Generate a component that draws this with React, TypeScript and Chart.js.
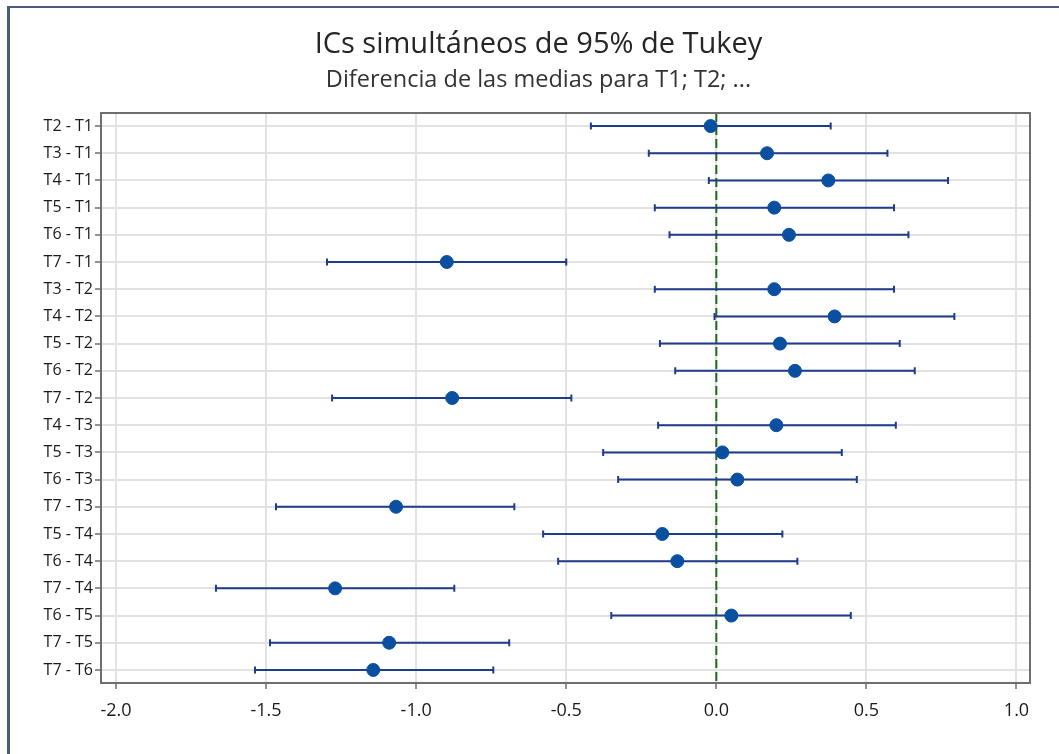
import React, { useEffect, useRef } from "react";
import { Chart, registerables } from "chart.js";

Chart.register(...registerables);

const comparisons = [
  "T2 - T1", "T3 - T1", "T4 - T1", "T5 - T1", "T6 - T1", "T7 - T1",
  "T3 - T2", "T4 - T2", "T5 - T2", "T6 - T2", "T7 - T2",
  "T4 - T3", "T5 - T3", "T6 - T3", "T7 - T3",
  "T5 - T4", "T6 - T4", "T7 - T4",
  "T6 - T5", "T7 - T5",
  "T7 - T6",
];
const centers = [
  -0.019, 0.169, 0.373, 0.193, 0.242, -0.898,
  0.193, 0.394, 0.212, 0.262, -0.88,
  0.2, 0.02, 0.07, -1.067,
  -0.18, -0.13, -1.27,
  0.05, -1.09,
  -1.143,
];
const lowers = [
  -0.418, -0.225, -0.025, -0.205, -0.156, -1.297,
  -0.205, -0.006, -0.188, -0.137, -1.28,
  -0.194, -0.377, -0.327, -1.467,
  -0.577, -0.527, -1.667,
  -0.35, -1.487,
  -1.537,
];
const uppers = [
  0.381, 0.57, 0.772, 0.592, 0.64, -0.5,
  0.592, 0.793, 0.611, 0.661, -0.483,
  0.598, 0.418, 0.468, -0.673,
  0.22, 0.27, -0.873,
  0.448, -0.69,
  -0.743,
];
const xTickValues = [-2.0, -1.5, -1.0, -0.5, 0.0, 0.5, 1.0];
const titleText = "ICs simultáneos de 95% de Tukey";
const subtitleText = "Diferencia de las medias para T1; T2; ...";

const FONT = "'Open Sans', 'Noto Sans', sans-serif";

export default function App() {
  const canvasRef = useRef<HTMLCanvasElement | null>(null);

  useEffect(() => {
    const canvas = canvasRef.current;
    if (!canvas) return;

    const whiskerPlugin = {
      id: "whiskers",
      beforeDatasetDraw(chart: any, args: any) {
        if (args.index !== 1) return;
        const ctx = chart.ctx;
        const xs = chart.scales.x;
        const ys = chart.scales.y;
        ctx.save();
        ctx.strokeStyle = "#1f3b8c";
        ctx.lineWidth = 2;
        for (let i = 0; i < comparisons.length; i++) {
          const y = ys.getPixelForValue(i + 1);
          const x1 = xs.getPixelForValue(lowers[i]);
          const x2 = xs.getPixelForValue(uppers[i]);
          ctx.beginPath();
          ctx.moveTo(x1, y);
          ctx.lineTo(x2, y);
          ctx.moveTo(x1, y - 3.5);
          ctx.lineTo(x1, y + 3.5);
          ctx.moveTo(x2, y - 3.5);
          ctx.lineTo(x2, y + 3.5);
          ctx.stroke();
        }
        ctx.restore();
      },
      afterDraw(chart: any) {
        const { ctx, chartArea } = chart;
        ctx.save();
        ctx.strokeStyle = "#6e6e6e";
        ctx.lineWidth = 2;
        ctx.strokeRect(
          chartArea.left,
          chartArea.top,
          chartArea.right - chartArea.left,
          chartArea.bottom - chartArea.top
        );
        ctx.restore();
      },
    };

    const chart = new Chart(canvas, {
      type: "scatter",
      data: {
        datasets: [
          {
            type: "line",
            data: [
              { x: 0, y: 0.52 },
              { x: 0, y: 21.48 },
            ],
            borderColor: "#1d6b1d",
            borderWidth: 2,
            borderDash: [9, 4],
            pointRadius: 0,
            showLine: true,
            order: 2,
          } as any,
          {
            data: centers.map((c, i) => ({ x: c, y: i + 1 })),
            backgroundColor: "#0b4fa0",
            borderColor: "#0b4fa0",
            borderWidth: 1,
            pointRadius: 6.5,
            pointStyle: "circle",
            order: 1,
          },
        ],
      },
      options: {
        responsive: false,
        animation: false,
        events: [],
        layout: { padding: { left: 18, right: 0, top: 0, bottom: 0 } },
        plugins: {
          legend: { display: false },
          tooltip: { enabled: false },
          title: {
            display: true,
            text: titleText,
            color: "#262626",
            font: { family: FONT, size: 29, weight: "normal" },
            padding: { top: 27.6, bottom: 0 },
          },
          subtitle: {
            display: true,
            text: subtitleText,
            color: "#333333",
            font: { family: FONT, size: 23.5, weight: "normal" },
            padding: { top: 3.5, bottom: 18.9 },
          },
        },
        scales: {
          x: {
            type: "linear",
            min: -2.05,
            max: 1.045,
            afterBuildTicks(scale: any) {
              scale.ticks = xTickValues.map((v) => ({ value: v }));
            },
            afterFit(scale: any) {
              scale.height = 71;
            },
            ticks: {
              color: "#1a1a1a",
              font: { family: FONT, size: 18 },
              padding: 11,
              maxRotation: 0,
              callback: (v: any) => Number(v).toFixed(1),
            },
            grid: {
              color: "#e2e2e2",
              lineWidth: 2,
              tickColor: "#6e6e6e",
              tickWidth: 1.5,
              tickLength: 6,
            },
            border: { display: false },
          },
          y: {
            type: "linear",
            reverse: true,
            min: 0.52,
            max: 21.48,
            afterBuildTicks(scale: any) {
              scale.ticks = comparisons.map((_, i) => ({ value: i + 1 }));
            },
            afterFit(scale: any) {
              scale.width = 83;
            },
            ticks: {
              color: "#1a1a1a",
              font: { family: FONT, size: 16 },
              padding: 2,
              autoSkip: false,
              callback: (v: any) => comparisons[Math.round(Number(v)) - 1] ?? "",
            },
            grid: {
              color: "#e2e2e2",
              lineWidth: 2,
              tickColor: "#6e6e6e",
              tickWidth: 1.5,
              tickLength: 6,
            },
            border: { display: false },
          },
          yRight: {
            type: "linear",
            position: "right",
            display: true,
            afterFit(scale: any) {
              scale.width = 29;
            },
            ticks: { display: false },
            grid: { display: false, drawTicks: false },
            border: { display: false },
          },
        },
      },
      plugins: [whiskerPlugin],
    });

    return () => chart.destroy();
  }, []);

  return (
    <div
      style={{
        position: "fixed",
        left: 0,
        top: 0,
        width: 1059,
        height: 754,
        background: "#ffffff",
      }}
    >
      <canvas ref={canvasRef} width={1059} height={754} style={{ display: "block" }} />
      <div
        style={{
          position: "absolute",
          left: 7,
          top: 6,
          right: 0,
          bottom: 0,
          borderLeft: "3px solid #4b5a78",
          borderTop: "2px solid #4b5a78",
          pointerEvents: "none",
        }}
      />
    </div>
  );
}
